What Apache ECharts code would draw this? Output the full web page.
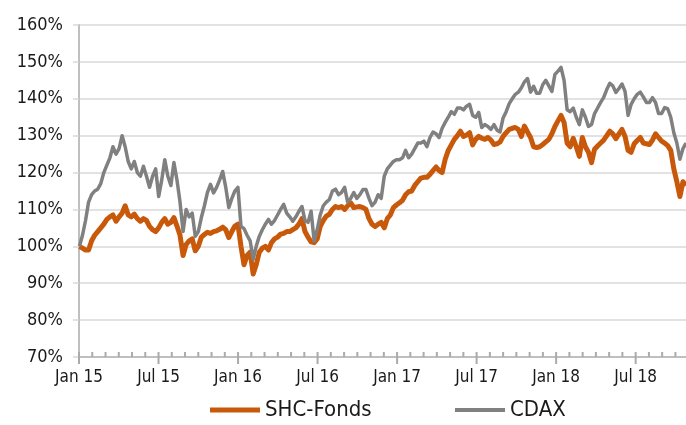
<!DOCTYPE html>
<html>
<head>
<meta charset="utf-8">
<script src="https://cdn.jsdelivr.net/npm/echarts@6/dist/echarts.min.js"></script>
<style>
  html, body { margin: 0; padding: 0; background: #fff; }
  #chart { width: 686px; height: 425px; }
</style>
</head>
<body>
<div id="chart"></div>
<script>
  // weekly closes, indexed to 100% on the first week of 2015
  const startDate = '2015-01-02'
  const stepDays = 7

  const shcFonds = [
    100, 99.5, 99, 99, 101.5, 103, 104, 105, 106, 107.3,
    108, 108.5, 106.8, 108, 109, 111, 108.5, 108, 108.7, 107.5,
    106.8, 107.5, 107, 105.4, 104.5, 104, 105, 106.5, 107.5, 106,
    106.5, 107.8, 105.5, 103, 97.5, 100.5, 101.5, 102, 98.8, 100,
    102.5, 103.2, 103.8, 103.5, 104, 104.2, 104.6, 105.2, 104.5, 102.4,
    104, 105.5, 106, 100, 95, 97.5, 98.4, 92.5, 95, 98.4,
    99.5, 100, 99, 101, 102, 102.5, 103.3, 103.5, 104, 104,
    104.5, 105, 106, 107.5, 104, 102.5, 101.2, 101, 102, 105.4,
    107, 108.2, 108.7, 110, 110.8, 110.5, 110.8, 110, 111, 111.8,
    110.5, 110.7, 110.8, 110.5, 110, 107.5, 106, 105.4, 106, 106.5,
    105, 107.5, 108.5, 110.5, 111.2, 111.8, 112.5, 114, 114.8, 115,
    116.5, 117.5, 118.5, 118.7, 118.7, 119.5, 120.5, 121.5, 120.5, 120,
    123.6, 126, 127.5, 129, 130, 131.2, 129.8, 130.2, 130.8, 127.5,
    129, 129.8, 129.3, 129, 129.5, 128.8, 127.6, 127.8, 128.3, 129.8,
    130.8, 131.7, 132, 132.2, 131.7, 129.8, 132.6, 131, 129.5, 127,
    126.8, 127, 127.6, 128.3, 129, 130.5, 132.5, 134, 135.5, 133.6,
    128, 127, 129.3, 127, 124.4, 129.5, 127, 125.5, 122.7, 126.3,
    127.2, 128, 128.8, 130, 131.2, 130.5, 129.2, 130.5, 131.7, 129.8,
    126, 125.5, 127.8, 128.7, 129.5, 128, 127.8, 127.6, 128.8, 130.5,
    129.5, 128.5, 128, 127.3, 126, 121, 117.5, 113.5, 117.5, 116.5
  ]

  const cdax = [
    100, 103, 107, 112, 114, 115, 115.5, 117, 120, 122,
    124, 127, 125, 126.5, 130, 127, 123, 121, 123, 120,
    119, 121.7, 119, 116, 119, 121, 113.5, 118, 123.5, 119,
    116.5, 122.7, 118, 112, 104, 110, 108, 109, 102.7, 104,
    107.8, 111, 114.6, 116.8, 114.5, 116, 118, 120.3, 116, 110.5,
    113, 115, 116, 105.4, 104.8, 103, 101.5, 96.5, 100, 102.7,
    104.5, 106, 107.3, 106, 107, 108.5, 110, 111.4, 109, 108,
    106.8, 108, 109.5, 110.8, 107, 106.5, 109.5, 101.5, 104.5, 108.5,
    111, 112, 112.7, 115, 115.5, 114, 114.6, 116, 112, 113,
    114.6, 113, 114, 115.4, 115.4, 113, 111, 112, 114, 113,
    119, 121, 122, 123, 123.5, 123.5, 124, 126, 124, 125,
    126.5, 128, 128, 128.5, 127, 129.5, 131, 130.5, 129.5, 132,
    133.6, 135, 136.5, 135.8, 137.5, 137.5, 137, 138, 138.5, 135.5,
    135, 136.3, 132.2, 133, 132.5, 131.7, 133, 131.5, 131, 134.8,
    136.5, 138.7, 140, 141.2, 141.8, 143, 144.6, 145.5, 141.8, 143.4,
    141.5, 141.5, 143.8, 145, 143.5, 142, 146.6, 147.5, 148.5, 145,
    137, 136.5, 137.5, 135, 133, 137, 135, 132.5, 133, 136,
    137.5, 139, 140.4, 142.5, 144.2, 143.5, 141.7, 142.8, 144, 142,
    135.5, 138.5, 140, 141.2, 141.8, 140.5, 139, 139, 140.3, 139,
    136, 136, 137.6, 137.3, 135, 130.8, 128, 123.6, 126.5, 128
  ]

  const tickLabels = ['Jan 15', 'Jul 15', 'Jan 16', 'Jul 16', 'Jan 17', 'Jul 17', 'Jan 18', 'Jul 18']
  const seriesNames = ['SHC-Fonds', 'CDAX']

  const font = '"Liberation Sans Narrow", "DejaVu Sans Condensed", sans-serif'
  const monthLen = 30.4375
  const t0 = Date.UTC(2015, 0, 1)
  const start = new Date(startDate + 'T00:00:00Z').getTime()
  const yMin = 70

  // x in months since 1 Jan 2015
  const toPoints = (vals) =>
    vals.map((v, i) => [(start - t0) / 864e5 / monthLen + (i * stepDays) / monthLen, v])

  const shcData = toPoints(shcFonds)
  const cdaxData = toPoints(cdax)
  const xMax = shcData[shcData.length - 1][0]

  const majorTicks = tickLabels.map((_, i) => i * 6)
  const monthTicks = []
  for (let m = 0; m <= Math.floor(xMax); m++) monthTicks.push(m)

  const chart = echarts.init(document.getElementById('chart'), null, { renderer: 'canvas' })

  chart.setOption({
    animation: false,
    textStyle: { fontFamily: font },
    grid: { left: 79, right: 0, top: 25, bottom: 68 },
    legend: [
      {
        data: [seriesNames[0]],
        left: 205,
        top: 394,
        icon: 'rect',
        itemWidth: 50,
        itemHeight: 5,
        itemGap: 8,
        textStyle: { fontFamily: font, fontSize: 22, color: '#1a1a1a' },
      },
      {
        data: [seriesNames[1]],
        left: 450,
        top: 394,
        icon: 'rect',
        itemWidth: 50,
        itemHeight: 4,
        textStyle: { fontFamily: font, fontSize: 22, color: '#1a1a1a' },
      },
    ],
    xAxis: {
      type: 'value',
      min: 0,
      max: xMax,
      interval: 6,
      axisLine: { show: true, onZero: false, lineStyle: { color: '#bfbfbf', width: 2 } },
      axisTick: { show: false },
      axisLabel: {
        customValues: majorTicks,
        margin: 12,
        fontSize: 17,
        color: '#1a1a1a',
        fontFamily: font,
        formatter: (v) => tickLabels[Math.round(v / 6)] || '',
      },
      splitLine: { show: false },
    },
    yAxis: {
      type: 'value',
      min: yMin,
      max: 160,
      interval: 10,
      axisLine: { show: true, lineStyle: { color: '#bfbfbf', width: 2 } },
      axisTick: { show: true, length: 6, lineStyle: { color: '#d9d9d9', width: 1.5 } },
      axisLabel: {
        formatter: '{value}%',
        margin: 16,
        fontSize: 18,
        color: '#1a1a1a',
        fontFamily: font,
      },
      splitLine: { lineStyle: { color: '#d9d9d9', width: 1.5 } },
    },
    series: [
      {
        // month ticks: short ones up into the plot, half-year ones crossing the axis
        type: 'custom',
        silent: true,
        clip: false,
        z: 10,
        data: monthTicks.map((m) => [m, yMin]),
        renderItem: (params, api) => {
          const m = api.value(0)
          const p = api.coord([m, yMin])
          const major = m % 6 === 0
          return {
            type: 'line',
            shape: { x1: p[0], y1: p[1] - 5, x2: p[0], y2: p[1] + (major ? 7 : 0) },
            style: { stroke: '#ababab', lineWidth: 2 },
          }
        },
      },
      {
        name: seriesNames[0],
        type: 'line',
        data: shcData,
        showSymbol: false,
        z: 3,
        lineStyle: { color: '#c9590a', width: 5, join: 'round' },
        itemStyle: { color: '#c9590a' },
      },
      {
        name: seriesNames[1],
        type: 'line',
        data: cdaxData,
        showSymbol: false,
        z: 4,
        lineStyle: { color: '#808080', width: 3.5, join: 'round' },
        itemStyle: { color: '#808080' },
      },
    ],
  })
</script>
</body>
</html>
